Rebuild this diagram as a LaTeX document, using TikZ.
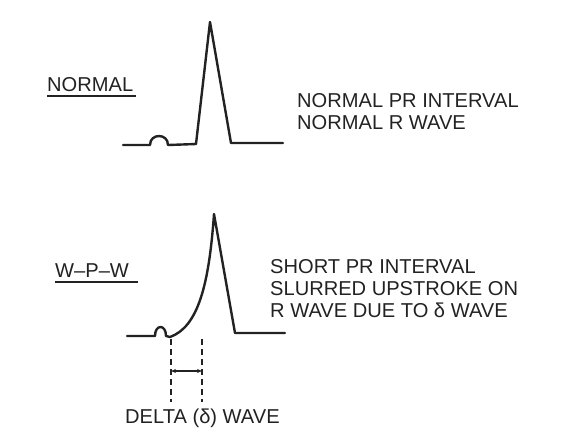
\documentclass[tikz,border=0pt]{standalone}
\usepackage{fontspec}
\setmainfont{Liberation Sans}
\usetikzlibrary{arrows.meta}
\definecolor{ink}{HTML}{222222}
\begin{document}
\begin{tikzpicture}[x=1pt,y=-1pt,
  lbl/.style={inner sep=0pt,anchor=base west,text=ink,font=\fontsize{20.1}{22}\selectfont},
  trace/.style={draw=ink,line width=2.4pt,line join=round,line cap=round},
  guide/.style={draw=ink,line width=1.8pt,dash pattern=on 6pt off 4pt},
  ul/.style={draw=ink,line width=1.6pt}]
\useasboundingbox (0,0) rectangle (570,440);
% labels
\node[lbl] (nrm) at (47,91) {NORMAL};
\draw[ul] ([yshift=-5pt]nrm.base west) -- ([xshift=3pt,yshift=-5pt]nrm.base east);
\node[lbl] (wpw) at (55,277) {W–P–W};
\draw[ul] ([yshift=-5pt]wpw.base west) -- ([xshift=9pt,yshift=-5pt]wpw.base east);
% right texts
\node[lbl] (t1) at (297,107) {NORMAL PR INTERVAL};
\node[lbl] (t2) at (297,129) {NORMAL R WAVE};
\node[lbl] (s1) at (270,273) {SHORT PR INTERVAL};
\node[lbl] (s2) at (270,295) {SLURRED UPSTROKE ON};
\node[lbl] (s3) at (270,317) {R WAVE DUE TO δ WAVE};
\node[lbl] (dl) at (125,423) {DELTA (δ) WAVE};
% normal trace
\draw[trace] (123,145) -- (150,145) .. controls (150,133) and (168,133) .. (168,145)
  -- (196,144) -- (210,22) -- (231,143) -- (283,143);
% WPW trace
\draw[trace] (127,336) -- (155,336) .. controls (155,324) and (166,324) .. (166,336)
  -- (170,337) .. controls (198,327) and (209,285) .. (214,214) -- (235,333) -- (285,333);
% delta markers
\coordinate (d1t) at (171,339);
\coordinate (d1b) at (171,402);
\coordinate (d2t) at (202,339);
\coordinate (d2b) at (202,402);
\draw[guide] (d1t) -- (d1b);
\draw[guide] (d2t) -- (d2b);
\coordinate (a1) at (171,371);
\coordinate (a2) at (202,371);
\draw[draw=ink,line width=1.2pt,{Stealth[length=5pt,width=4pt]}-{Stealth[length=5pt,width=4pt]}] (a1) -- (a2);
\end{tikzpicture}
\end{document}
